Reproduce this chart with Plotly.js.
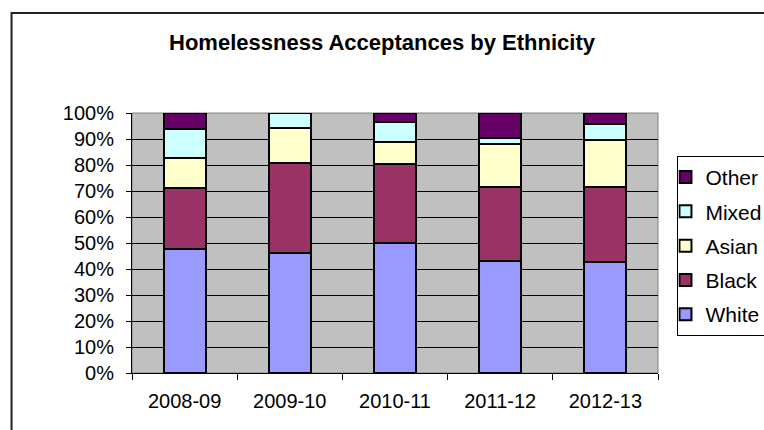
<!DOCTYPE html>
<html>
<head>
<meta charset="utf-8">
<script src="https://cdn.plot.ly/plotly-3.0.1.min.js"></script>
<style>html,body{margin:0;padding:0;background:#fff;}#chart{width:764px;height:430px;}</style>
</head>
<body>
<div id="chart"></div>
<script>
const categories = ["2008-09", "2009-10", "2010-11", "2011-12", "2012-13"];
const white = [47.6, 46.2, 50.0, 43.0, 42.7];
const black = [23.7, 34.6, 30.2, 28.5, 28.8];
const asian = [11.4, 13.6, 8.6, 16.7, 18.3];
const mixed = [11.1, 5.6, 7.7, 2.2, 5.9];
const other = [6.2, 0.0, 3.5, 9.6, 4.3];
const yTicks = [0, 10, 20, 30, 40, 50, 60, 70, 80, 90, 100];
const yTickLabels = ["0%", "10%", "20%", "30%", "40%", "50%", "60%", "70%", "80%", "90%", "100%"];

const FONT = "Arial, 'Liberation Sans', sans-serif";
const series = [
  {name: "White", y: white, color: "#9999FF", rank: 5},
  {name: "Black", y: black, color: "#993366", rank: 4},
  {name: "Asian", y: asian, color: "#FFFFCC", rank: 3},
  {name: "Mixed", y: mixed, color: "#CCFFFF", rank: 2},
  {name: "Other", y: other, color: "#660066", rank: 1}
];
const traces = series.map(s => ({
  type: "bar",
  name: s.name,
  x: categories,
  y: s.y,
  legendgroup: s.name,
  legendrank: s.rank,
  marker: {color: s.color, line: {color: "#000", width: 2}},
  hoverinfo: "skip"
}));

const layout = {
  width: 764, height: 430,
  margin: {l: 132, r: 106, t: 113, b: 57, autoexpand: false},
  paper_bgcolor: "#FFFFFF",
  plot_bgcolor: "#C0C0C0",
  barmode: "stack",
  bargap: 0.6,
  font: {family: FONT, size: 20, color: "#000"},
  title: {text: "<b>Homelessness Acceptances by Ethnicity</b>", font: {family: FONT, size: 22, color: "#000"},
          x: 0.5, xanchor: "center", xref: "container", y: 1 - 42/430, yanchor: "middle"},
  xaxis: {type: "category", showgrid: false, showline: true, linecolor: "#000", linewidth: 1,
          ticks: "outside", tickson: "boundaries", ticklen: 6, tickcolor: "#000", ticklabelstandoff: 10,
          tickfont: {family: FONT, size: 20, color: "#000"}},
  yaxis: {range: [0, 100], tickmode: "array", tickvals: yTicks, ticktext: yTickLabels,
          showgrid: true, gridcolor: "#000", gridwidth: 1,
          zeroline: false, showline: true, linecolor: "#000", linewidth: 1,
          ticks: "outside", ticklen: 5, tickcolor: "#000", ticklabelstandoff: 8,
          tickfont: {family: FONT, size: 20, color: "#000"}},
  legend: {x: 1.037, xanchor: "left", y: 0.835, yanchor: "top", traceorder: "grouped",
           tracegroupgap: 4, indentation: -13, bordercolor: "#000", borderwidth: 1, bgcolor: "#FFFFFF",
           font: {family: FONT, size: 21, color: "#000"}},
  shapes: [
    {type: "rect", xref: "paper", yref: "paper", x0: 0, x1: 1, y0: 0, y1: 1,
     line: {color: "#808080", width: 1}, layer: "below"},
    {type: "rect", xref: "paper", yref: "paper", x0: -0.229, x1: 2, y0: -1, y1: 1.385,
     line: {color: "#222", width: 2}, fillcolor: "rgba(0,0,0,0)", layer: "above"}
  ],
  showlegend: true
};

Plotly.newPlot("chart", traces, layout, {staticPlot: true, displayModeBar: false});
</script>
</body>
</html>
